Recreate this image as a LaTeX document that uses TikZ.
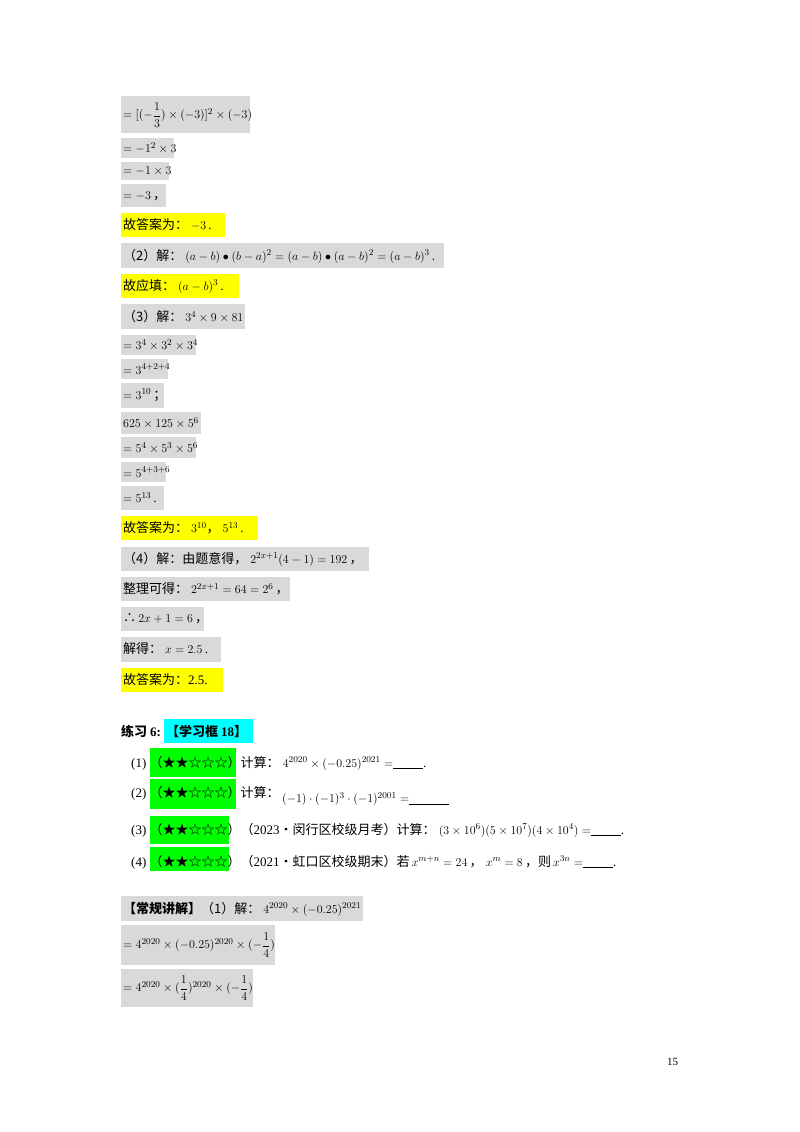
\documentclass[tikz,border=0pt]{standalone}
\usepackage{fontspec}
\setmainfont{Liberation Serif}
\newfontfamily\cjk{Noto Sans CJK SC}
\definecolor{gbox}{HTML}{D9D9D9}
\definecolor{ybox}{HTML}{FFFF00}
\definecolor{cbox}{HTML}{00FFFF}
\definecolor{gnbox}{HTML}{00FF00}
\newcommand{\dfr}[2]{{\displaystyle\frac{#1}{#2}}}
\begin{document}
\begin{tikzpicture}[x=1pt,y=-1pt,
  t/.style={anchor=west,inner sep=0pt,font=\fontsize{13}{15}\selectfont},
  c/.style={t,font=\fontsize{13}{15}\selectfont\cjk}]
\useasboundingbox (0,0) rectangle (800,1132);
\fill[white] (0,0) rectangle (800,1132);
% boxes
\foreach \a/\b/\c/\d/\col in {
 121/96/250/133/gbox, 121/138/174/158/gbox, 121/162/169/180/gbox, 121/184/166/207/gbox,
 121/213/225/237/ybox, 121/243/444/268/gbox, 121/274/239/298/ybox,
 121/304/245/329/gbox, 121/335/196/355/gbox, 121/359/168/379/gbox, 121/383/164/408/gbox,
 121/412/201/434/gbox, 121/437/196/458/gbox, 121/462/166/482/gbox, 121/486/164/510/gbox,
 121/516/258/540/ybox, 121/547/369/571/gbox, 121/577/290/601/gbox, 121/607/204/631/gbox,
 121/637/221/662/gbox, 121/668/223/692/ybox,
 164/719/253/743/cbox,
 150/748/236/777/gnbox, 150/779/236/809/gnbox, 150/816/229/844/gnbox, 150/847/229/871/gnbox,
 121/896/363/921/gbox, 121/925/275/965/gbox, 121/969/253/1007/gbox}
 {\fill[\col] (\a,\b) rectangle (\c,\d);}
% lines
\node[t] (l1) at (123,115) {$=[(-\dfr{1}{3})\times(-3)]^2\times(-3)$};
\node[t] (l2) at (123,148) {$=-1^2\times3$};
\node[t] (l3) at (123,171) {$=-1\times3$};
\node[t] (l4) at (123,196) {$=-3$\,{\cjk ，}};
\node[c] (l5) at (123,225) {故答案为：\ {\rmfamily$-3$\,.}};
\node[c] (l6) at (123,256) {（2）解：\ {\rmfamily$(a-b)\bullet(b-a)^2=(a-b)\bullet(a-b)^2=(a-b)^3$\,.}};
\node[c] (l7) at (123,286) {故应填：\ {\rmfamily$(a-b)^3$\,.}};
\node[c] (l8) at (123,317) {（3）解：\ {\rmfamily$3^4\times9\times81$}};
\node[t] (l9) at (123,345) {$=3^4\times3^2\times3^4$};
\node[t] (l10) at (123,369) {$=3^{4+2+4}$};
\node[t] (l11) at (123,395) {$=3^{10}$\,{\cjk ；}};
\node[t] (l12) at (123,423) {$625\times125\times5^6$};
\node[t] (l13) at (123,448) {$=5^4\times5^3\times5^6$};
\node[t] (l14) at (123,472) {$=5^{4+3+6}$};
\node[t] (l15) at (123,498) {$=5^{13}$\,.};
\node[c] (l16) at (123,528) {故答案为：\ {\rmfamily$3^{10}$}，\ {\rmfamily$5^{13}$\,.}};
\node[c] (l17) at (123,559) {（4）解：由题意得，\ {\rmfamily$2^{2x+1}(4-1)=192$}\,，};
\node[c] (l18) at (123,589) {整理可得：\ {\rmfamily$2^{2x+1}=64=2^6$}\,，};
\node[t] (l19) at (123,619) {{\cjk ∴}\,$2x+1=6$\,{\cjk ，}};
\node[c] (l20) at (123,649) {解得：\ {\rmfamily$x=2.5$\,.}};
\node[c] (l21) at (123,680) {故答案为：{\rmfamily 2.5.}};
% exercise
\node[c,font=\fontsize{13}{15}\selectfont\cjk\bfseries] (ex) at (121,731) {练习 {\rmfamily\bfseries 6:}};
\node[c,font=\fontsize{13}{15}\selectfont\cjk\bfseries] (exb) at (166,731) {【学习框 {\rmfamily\bfseries 18}】};
\node[t] (q1) at (131,763) {(1)\ {\cjk （★★☆☆☆）计算：}\ $4^{2020}\times(-0.25)^{2021}=$\underline{\hspace{30pt}}.};
\node[t] (q2) at (131,793) {(2)\ {\cjk （★★☆☆☆）计算：}};
\node[t] (q2m) at (282,799) {$(-1)\cdot(-1)^3\cdot(-1)^{2001}=$\underline{\hspace{40pt}}};
\node[t] (q3) at (131,830) {(3)\ {\cjk （★★☆☆☆）（}2023{\cjk •闵行区校级月考）计算：}\ $(3\times10^6)(5\times10^7)(4\times10^4)=$\underline{\hspace{30pt}}.};
\node[t] (q4) at (131,862) {(4)\ {\cjk （★★☆☆☆）（}2021{\cjk •虹口区校级期末）若}\,$x^{m+n}=24$\,{\cjk ，}\ $x^m=8$\,{\cjk ，则}\,$x^{3n}=$\underline{\hspace{30pt}}.};
% solution
\node[c] (s1) at (123,909) {{\bfseries【常规讲解】}（1）解：\ {\rmfamily$4^{2020}\times(-0.25)^{2021}$}};
\node[t] (s2) at (123,945) {$=4^{2020}\times(-0.25)^{2020}\times(-\dfr{1}{4})$};
\node[t] (s3) at (123,988) {$=4^{2020}\times(\dfr{1}{4})^{2020}\times(-\dfr{1}{4})$};
\node[t,font=\fontsize{11}{13}\selectfont] (pg) at (667,1062) {15};
\end{tikzpicture}
\end{document}
